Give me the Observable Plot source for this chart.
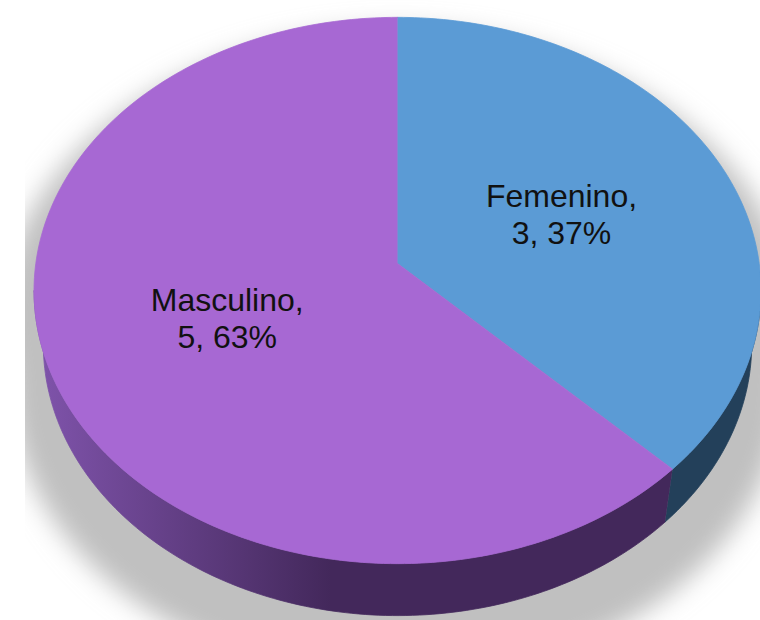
<!DOCTYPE html>
<html><head><meta charset="utf-8">
<script src="https://cdn.jsdelivr.net/npm/d3@7"></script>
<script src="https://cdn.jsdelivr.net/npm/@observablehq/plot@0.6"></script>
<style>body{margin:0;background:#fff}</style>
</head><body><div id="chart"></div>
<script>
const categories = ["Femenino", "Masculino"];
const values = [3, 5];
const percentLabels = ["37%", "63%"];
const topColors = ["#5B9BD5", "#A768D3"];
const sideColors = ["#23405A", "url(#mascSide)"];

// 3D perspective projection of a unit disk
const tilt = 48.4 * Math.PI / 180, camD = 6.717, thick = 0.233;
const S = Math.sin(tilt), C = Math.cos(tilt);
function project(theta, r, h) {
  const a = theta * Math.PI / 180;
  const u = r * Math.sin(a), v = r * Math.cos(a);
  const z = camD + v * C - h * S;
  return {x: u * camD / z, y: (v * S + h * C) * camD / z};
}
const silA = Math.acos(-C / camD) * 180 / Math.PI; // right silhouette angle
const silB = 360 - silA;

const total = d3.sum(values);
let acc = 0;
const slices = categories.map((c, i) => {
  const a0 = acc / total * 360; acc += values[i];
  const a1 = acc / total * 360;
  return {key: c, i, a0, a1};
});

function arc(a0, a1, r, h) {
  const pts = [];
  const n = Math.max(2, Math.ceil(Math.abs(a1 - a0)));
  for (let k = 0; k <= n; k++) pts.push(project(a0 + (a1 - a0) * k / n, r, h));
  return pts;
}

const topPts = [], sidePts = [], labelPts = [];
for (const s of slices) {
  topPts.push({...project(0, 0, 0), key: s.key});
  for (const p of arc(s.a0, s.a1, 1, 0)) topPts.push({...p, key: s.key});
  const lo = Math.max(s.a0, silA), hi = Math.min(s.a1, silB);
  if (hi > lo) {
    for (const p of arc(lo, hi, 1, 0)) sidePts.push({...p, key: s.key});
    for (const p of arc(hi, lo, 1, -thick)) sidePts.push({...p, key: s.key});
  }
  const m = (s.a0 + s.a1) / 2;
  labelPts.push({...project(m, 0.5, 0), text: `${s.key},\n${values[s.i]}, ${percentLabels[s.i]}`});
}
const shadowPts = [
  ...arc(silB, 360 + silA, 1.09, 0),
  ...arc(silA, silB, 1.09, -thick)
].map(p => ({...p, key: "shadow"}));

const k = 361.7, cx = 397, cy = 263, W = 760, H = 620;

const marks = [Plot.line(shadowPts, {x: "x", y: "y", fill: "#c0c0c0", stroke: "#c0c0c0"})];
for (const s of slices) {
  const sp = sidePts.filter(d => d.key === s.key);
  if (sp.length) marks.push(Plot.line(sp, {x: "x", y: "y", fill: sideColors[s.i], stroke: sideColors[s.i], strokeWidth: 0.8}));
}
for (const s of slices) {
  marks.push(Plot.line(topPts.filter(d => d.key === s.key), {x: "x", y: "y", fill: topColors[s.i], stroke: topColors[s.i], strokeWidth: 0.8}));
}
marks.push(Plot.text(labelPts, {x: "x", y: "y", text: "text", fontSize: 32, lineHeight: 1.16, fill: "#111", dy: 1}));

const svg = Plot.plot({
  width: W, height: H, margin: 0,
  x: {domain: [-cx / k, (W - cx) / k], axis: null},
  y: {domain: [(cy - H) / k, cy / k], axis: null},
  style: {background: "white", fontFamily: "'Liberation Sans', Arial, sans-serif"},
  marks
});

const root = d3.select(svg);
const defs = root.insert("defs", ":first-child");
const g = defs.append("linearGradient").attr("id", "mascSide").attr("gradientUnits", "userSpaceOnUse")
  .attr("x1", 33).attr("x2", 330).attr("y1", 0).attr("y2", 0);
g.append("stop").attr("offset", 0).attr("stop-color", "#8054AC");
g.append("stop").attr("offset", 1).attr("stop-color", "#43285B");
const f = defs.append("filter").attr("id", "blur").attr("x", "-20%").attr("y", "-20%").attr("width", "140%").attr("height", "140%");
f.append("feGaussianBlur").attr("stdDeviation", 13);
defs.append("clipPath").attr("id", "clipL").attr("clipPathUnits", "userSpaceOnUse")
  .append("rect").attr("x", 25).attr("y", -100).attr("width", W).attr("height", H + 200);
const shadowG = root.select('g[aria-label="line"]');
shadowG.attr("transform", null).attr("clip-path", "url(#clipL)");
shadowG.selectAll("path").attr("transform", "translate(0,34)").attr("filter", "url(#blur)");

document.getElementById("chart").appendChild(svg);
</script>
</body></html>
